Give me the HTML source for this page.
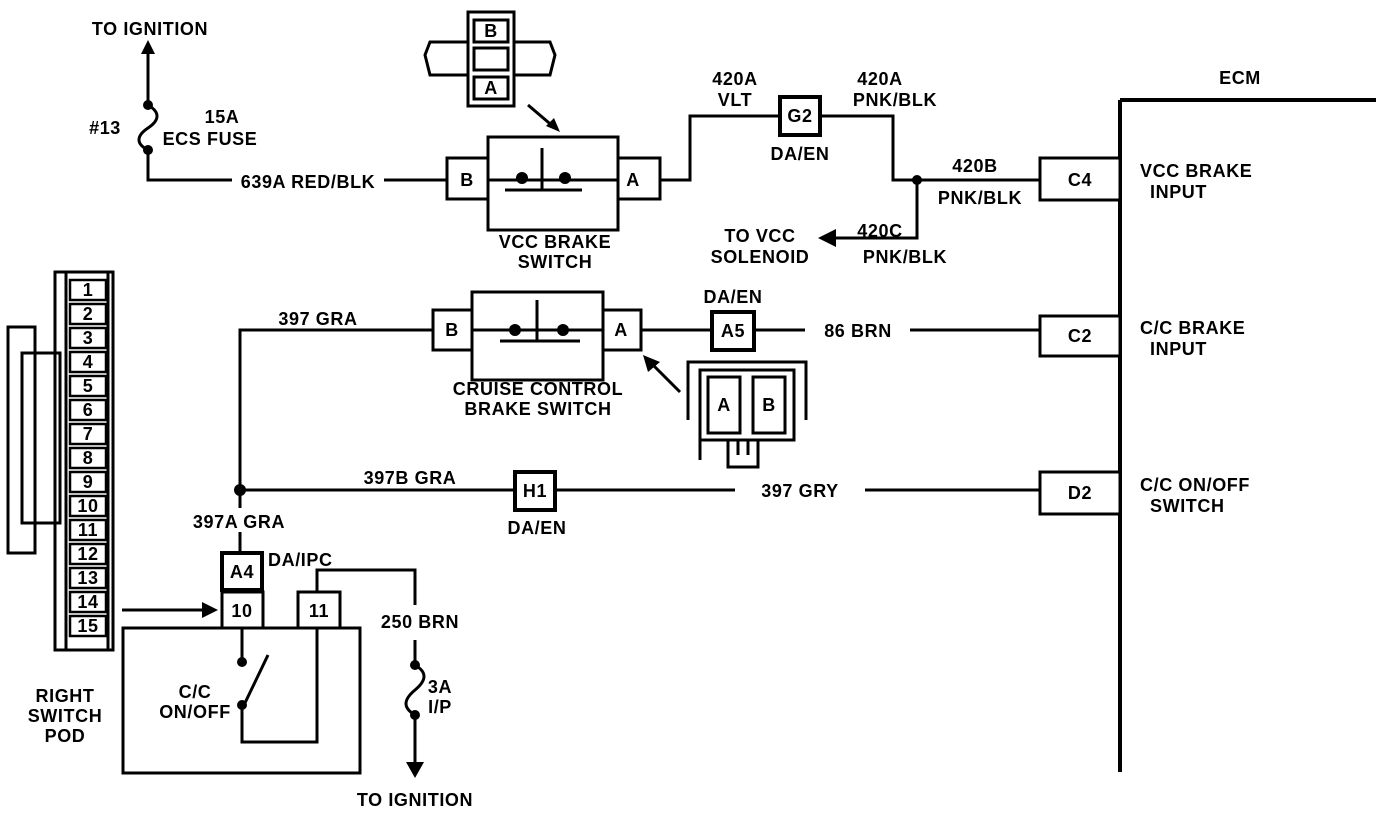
<!DOCTYPE html>
<html><head><meta charset="utf-8"><style>
html,body{margin:0;padding:0;background:#fff}
svg{display:block}
text{font-family:"Liberation Sans",Arial,sans-serif;font-weight:bold;font-size:18px;fill:#000;letter-spacing:0.6px}
</style></head><body>
<svg width="1392" height="814" viewBox="0 0 1392 814" xmlns="http://www.w3.org/2000/svg">
<g stroke="#000" stroke-width="3" fill="none">
<line x1="148" y1="50" x2="148" y2="105"/>
<path d="M148 105 C160 112,160 120,148 128 C136 136,136 144,148 150"/>
<polyline points="148,150 148,180 232,180"/>
<line x1="384" y1="180" x2="447" y2="180"/>
<polyline points="660,180 690,180 690,116 780,116"/>
<polyline points="820,116 893,116 893,180 1040,180"/>
<polyline points="917,180 917,238 835,238"/>
<line x1="1120" y1="100" x2="1120" y2="772" stroke-width="4"/>
<line x1="1120" y1="100" x2="1376" y2="100" stroke-width="4"/>
<polyline points="240,508 240,330 433,330"/>
<line x1="240" y1="532" x2="240" y2="592"/>
<line x1="641" y1="330" x2="712" y2="330"/>
<line x1="754" y1="330" x2="805" y2="330"/>
<line x1="910" y1="330" x2="1040" y2="330"/>
<line x1="680" y1="392" x2="652" y2="364"/>
<line x1="240" y1="490" x2="515" y2="490"/>
<line x1="555" y1="490" x2="735" y2="490"/>
<line x1="865" y1="490" x2="1040" y2="490"/>
<polyline points="317,592 317,570 415,570 415,605"/>
<line x1="415" y1="640" x2="415" y2="665"/>
<path d="M415 665 C427 672,427 680,415 690 C403 700,403 708,415 715"/>
<line x1="415" y1="715" x2="415" y2="765"/>
<line x1="122" y1="610" x2="205" y2="610"/>
<line x1="528" y1="105" x2="555" y2="128"/>
</g>
<g stroke="#000" stroke-width="3" fill="#fff">
<rect x="447" y="158" width="41" height="41"/>
<rect x="488" y="137" width="130" height="93"/>
<rect x="618" y="158" width="42" height="41"/>
<rect x="780" y="97" width="40" height="38" stroke-width="4"/>
<rect x="1040" y="158" width="80" height="42"/>
<rect x="1040" y="316" width="80" height="40"/>
<rect x="1040" y="472" width="80" height="42"/>
<rect x="433" y="310" width="39" height="40"/>
<rect x="472" y="292" width="131" height="88"/>
<rect x="603" y="310" width="38" height="40"/>
<rect x="712" y="312" width="42" height="38" stroke-width="4"/>
<rect x="515" y="472" width="40" height="38" stroke-width="4"/>
<rect x="222" y="553" width="40" height="37" stroke-width="4"/>
<rect x="222" y="592" width="41" height="36"/>
<rect x="298" y="592" width="42" height="36"/>
<rect x="123" y="628" width="237" height="145"/>
</g>
<g stroke="#000" stroke-width="3" fill="none">
<line x1="488" y1="180" x2="618" y2="180"/>
<line x1="505" y1="190" x2="582" y2="190"/>
<line x1="542" y1="148" x2="542" y2="190"/>
<line x1="472" y1="330" x2="603" y2="330"/>
<line x1="500" y1="341" x2="580" y2="341"/>
<line x1="537" y1="300" x2="537" y2="341"/>
<line x1="242" y1="628" x2="242" y2="660"/>
<line x1="244" y1="705" x2="268" y2="655"/>
<polyline points="242,705 242,742 317,742 317,628"/>
<polyline points="688,420 688,362 806,362 806,420"/>
<rect x="700" y="370" width="94" height="70"/>
<rect x="708" y="377" width="32" height="56"/>
<rect x="753" y="377" width="32" height="56"/>
<line x1="700" y1="440" x2="700" y2="460"/>
<rect x="728" y="440" width="30" height="27"/>
<line x1="738" y1="440" x2="738" y2="455"/><line x1="748" y1="440" x2="748" y2="455"/>
<rect x="468" y="12" width="46" height="94"/>
<rect x="474" y="20" width="34" height="22"/>
<rect x="474" y="48" width="34" height="22"/>
<rect x="474" y="77" width="34" height="22"/>
<polyline points="468,42 430,42 425,55 430,75 468,75"/>
<polyline points="514,42 550,42 555,55 550,75 514,75"/>
<rect x="55" y="272" width="58" height="378"/>
<line x1="66" y1="272" x2="66" y2="650"/>
<line x1="108" y1="272" x2="108" y2="650"/>
<rect x="8" y="327" width="27" height="226"/>
<rect x="22" y="353" width="38" height="170"/>
</g>
<g stroke="#000" stroke-width="2.5" fill="#fff">
<rect x="70" y="280" width="36" height="20"/><rect x="70" y="304" width="36" height="20"/>
<rect x="70" y="328" width="36" height="20"/><rect x="70" y="352" width="36" height="20"/>
<rect x="70" y="376" width="36" height="20"/><rect x="70" y="400" width="36" height="20"/>
<rect x="70" y="424" width="36" height="20"/><rect x="70" y="448" width="36" height="20"/>
<rect x="70" y="472" width="36" height="20"/><rect x="70" y="496" width="36" height="20"/>
<rect x="70" y="520" width="36" height="20"/><rect x="70" y="544" width="36" height="20"/>
<rect x="70" y="568" width="36" height="20"/><rect x="70" y="592" width="36" height="20"/>
<rect x="70" y="616" width="36" height="20"/>
</g>
<g fill="#000">
<circle cx="148" cy="105" r="5"/><circle cx="148" cy="150" r="5"/>
<circle cx="522" cy="178" r="6"/><circle cx="565" cy="178" r="6"/>
<circle cx="917" cy="180" r="5"/>
<circle cx="515" cy="330" r="6"/><circle cx="563" cy="330" r="6"/>
<circle cx="240" cy="490" r="6"/>
<circle cx="242" cy="662" r="5"/><circle cx="242" cy="705" r="5"/>
<circle cx="415" cy="665" r="5"/><circle cx="415" cy="715" r="5"/>
<polygon points="148,40 141,54 155,54"/>
<polygon points="818,238 836,229 836,247"/>
<polygon points="415,778 406,762 424,762"/>
<polygon points="218,610 202,602 202,618"/>
<polygon points="560,132 546,126 554,118"/>
<polygon points="643,355 648,372 660,362"/>
</g>
<g text-anchor="middle" style="font-size:15px">
<text x="88" y="296">1</text><text x="88" y="320">2</text><text x="88" y="344">3</text><text x="88" y="368">4</text><text x="88" y="392">5</text><text x="88" y="416">6</text><text x="88" y="440">7</text><text x="88" y="464">8</text><text x="88" y="488">9</text><text x="88" y="512">10</text><text x="88" y="536">11</text><text x="88" y="560">12</text><text x="88" y="584">13</text><text x="88" y="608">14</text><text x="88" y="632">15</text>
<text x="491" y="37">B</text><text x="491" y="94">A</text>
</g>
<g text-anchor="middle">
<text x="150" y="35">TO IGNITION</text>
<text x="105" y="134">#13</text>
<text x="222" y="123">15A</text>
<text x="210" y="145">ECS FUSE</text>
<text x="308" y="188">639A RED/BLK</text>
<text x="467" y="186">B</text><text x="633" y="186">A</text>
<text x="555" y="248">VCC BRAKE</text><text x="555" y="268">SWITCH</text>
<text x="735" y="85">420A</text><text x="735" y="106">VLT</text>
<text x="800" y="122">G2</text>
<text x="800" y="160">DA/EN</text>
<text x="880" y="85">420A</text><text x="895" y="106">PNK/BLK</text>
<text x="975" y="172">420B</text><text x="980" y="204">PNK/BLK</text>
<text x="880" y="237">420C</text><text x="905" y="263">PNK/BLK</text>
<text x="760" y="242">TO VCC</text><text x="760" y="263">SOLENOID</text>
<text x="1080" y="186">C4</text><text x="1080" y="342">C2</text><text x="1080" y="499">D2</text>
<text x="1240" y="84">ECM</text>
<text x="318" y="325">397 GRA</text>
<text x="452" y="336">B</text><text x="621" y="336">A</text>
<text x="733" y="303">DA/EN</text>
<text x="733" y="337">A5</text>
<text x="858" y="337">86 BRN</text>
<text x="538" y="395">CRUISE CONTROL</text><text x="538" y="415">BRAKE SWITCH</text>
<text x="724" y="411">A</text><text x="769" y="411">B</text>
<text x="410" y="484">397B GRA</text>
<text x="535" y="497">H1</text>
<text x="537" y="534">DA/EN</text>
<text x="800" y="497">397 GRY</text>
<text x="239" y="528">397A GRA</text>
<text x="242" y="578">A4</text>
<text x="242" y="617">10</text><text x="319" y="617">11</text>
<text x="420" y="628">250 BRN</text>
<text x="195" y="698">C/C</text><text x="195" y="718">ON/OFF</text>
<text x="65" y="702">RIGHT</text><text x="65" y="722">SWITCH</text><text x="65" y="742">POD</text>
<text x="440" y="693">3A</text><text x="440" y="713">I/P</text>
<text x="415" y="806">TO IGNITION</text>
</g>
<g>
<text x="268" y="566">DA/IPC</text>
<text x="1140" y="177">VCC BRAKE</text><text x="1150" y="198">INPUT</text>
<text x="1140" y="334">C/C BRAKE</text><text x="1150" y="355">INPUT</text>
<text x="1140" y="491">C/C ON/OFF</text><text x="1150" y="512">SWITCH</text>
</g>
</svg>
</body></html>
